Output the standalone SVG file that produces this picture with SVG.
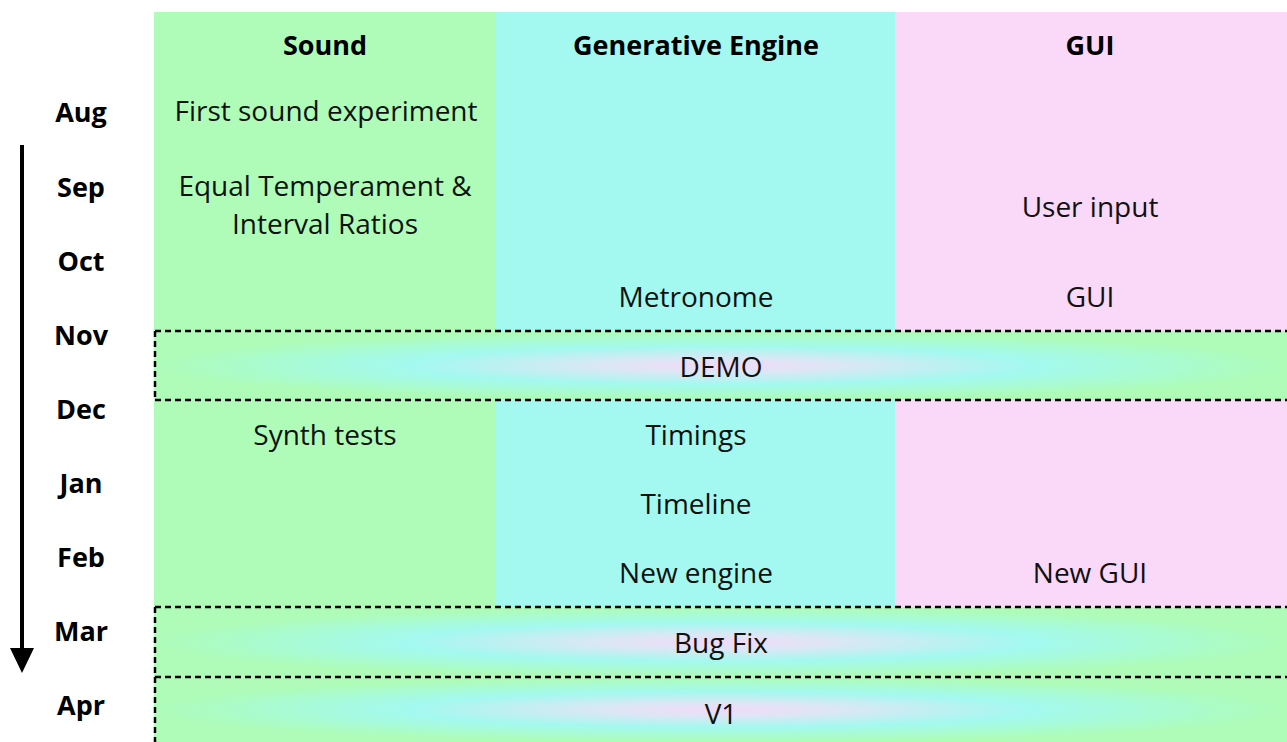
<svg xmlns="http://www.w3.org/2000/svg" width="1287" height="742" viewBox="0 0 1287 742">
<defs>
<radialGradient id="bandGrad" cx="0.5" cy="0.5" r="0.5">
<stop offset="0" stop-color="#f2d9f7"/>
<stop offset="0.2" stop-color="#dde6f5"/>
<stop offset="0.55" stop-color="#a3f9ef"/>
<stop offset="1" stop-color="#aefcb8"/>
</radialGradient>
<style>
.txt { font-family: "Open Sans", "Liberation Sans", sans-serif; font-size: 28px; fill: #111; text-anchor: middle; }
.hdr { font-family: "Open Sans", "Liberation Sans", sans-serif; font-size: 27px; font-weight: bold; fill: #000; text-anchor: middle; }
.mon { font-family: "Open Sans", "Liberation Sans", sans-serif; font-size: 27px; font-weight: bold; fill: #000; text-anchor: middle; }
.band { fill: url(#bandGrad); stroke: none; }
.dash { stroke: #000; stroke-width: 2.5; stroke-dasharray: 6 4; fill: none; }
</style>
</defs>
<rect width="1287" height="742" fill="#fff"/>
<g id="col-sound">
<rect x="154" y="12" width="342" height="730" fill="#aefcb8"/>
<text class="hdr" x="325" y="55">Sound</text>
<text class="txt" x="326" y="121">First sound experiment</text>
<text class="txt" x="325" y="196">Equal Temperament &amp;</text>
<text class="txt" x="325" y="234">Interval Ratios</text>
<text class="txt" x="325" y="445">Synth tests</text>
</g>
<g id="col-engine">
<rect x="496" y="12" width="399" height="730" fill="#a3f9ef"/>
<text class="hdr" x="696" y="55">Generative Engine</text>
<text class="txt" x="696" y="307">Metronome</text>
<text class="txt" x="696" y="445">Timings</text>
<text class="txt" x="696" y="514">Timeline</text>
<text class="txt" x="696" y="583">New engine</text>
</g>
<g id="col-gui">
<rect x="895" y="12" width="392" height="730" fill="#fad8f8"/>
<text class="hdr" x="1090" y="55">GUI</text>
<text class="txt" x="1090" y="217">User input</text>
<text class="txt" x="1090" y="307">GUI</text>
<text class="txt" x="1090" y="583">New GUI</text>
</g>
<g id="band-demo">
<rect class="band" x="155" y="331" width="1132" height="69"/>
<path class="dash" d="M155,331 H1287 M155,400 H1287 M155,331 V400"/>
<text class="txt" x="721" y="377">DEMO</text>
</g>
<g id="band-bugfix">
<rect class="band" x="155" y="607" width="1132" height="70"/>
<path class="dash" d="M155,607 H1287 M155,607 V677"/>
<text class="txt" x="721" y="653">Bug Fix</text>
</g>
<g id="band-v1">
<rect class="band" x="155" y="677" width="1132" height="65"/>
<path class="dash" d="M155,677 H1287 M155,677 V742"/>
<text class="txt" x="721" y="724">V1</text>
</g>
<g id="months">
<text class="mon" x="81" y="122">Aug</text>
<text class="mon" x="81" y="197">Sep</text>
<text class="mon" x="81" y="271">Oct</text>
<text class="mon" x="81" y="345">Nov</text>
<text class="mon" x="81" y="419">Dec</text>
<text class="mon" x="81" y="493">Jan</text>
<text class="mon" x="81" y="567">Feb</text>
<text class="mon" x="81" y="641">Mar</text>
<text class="mon" x="81" y="715">Apr</text>
</g>
<g id="connectors">
<line x1="22" y1="145" x2="22" y2="648" stroke="#000" stroke-width="4"/>
<path d="M10,648 L34,648 L22,673 Z" fill="#000"/>
</g>
</svg>
